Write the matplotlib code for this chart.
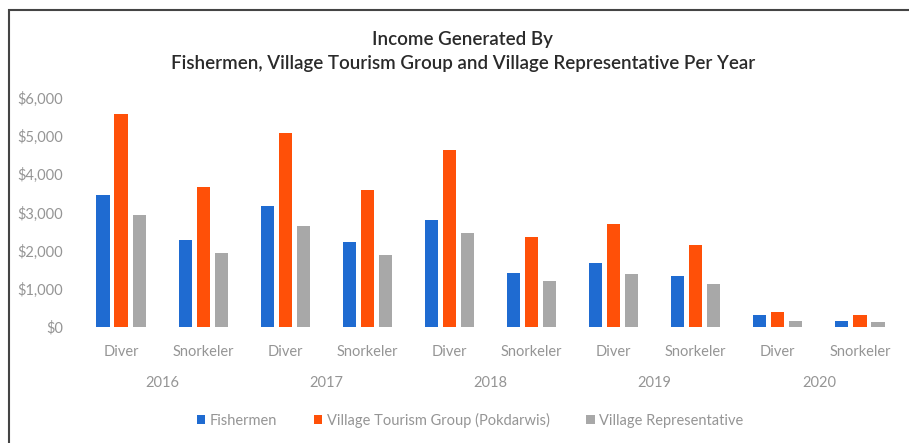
import matplotlib

matplotlib.use("Agg")
import matplotlib.pyplot as plt
import numpy as np
from matplotlib.patches import Patch, Rectangle
from matplotlib.ticker import StrMethodFormatter
from matplotlib.transforms import blended_transform_factory

years = ["2016", "2017", "2018", "2019", "2020"]
activities = ["Diver", "Snorkeler"]
series_names = ["Fishermen", "Village Tourism Group (Pokdarwis)", "Village Representative"]

# values per year: Diver, Snorkeler
fishermen = [3460, 2280, 3170, 2230, 2800, 1420, 1670, 1340, 310, 170]
tourism_group = [5580, 3670, 5070, 3600, 4650, 2350, 2710, 2150, 385, 310]
village_rep = [2930, 1930, 2640, 1880, 2450, 1200, 1390, 1130, 170, 120]

colors = ["#1F6BD1", "#FF5008", "#A8A8A8"]
tick_color = "#959595"
tick_size = 10.5

plt.rcParams["font.family"] = ["Lato", "DejaVu Sans"]

fig = plt.figure(figsize=(9.09, 4.43), dpi=100)
ax = fig.add_axes([80 / 909, 1 - 327 / 443, 821 / 909, 229 / 443])

labels = [a for _ in years for a in activities]
x = np.arange(len(labels))
offsets = [-0.22, 0.0, 0.22]
for values, off, color in zip([fishermen, tourism_group, village_rep], offsets, colors):
    ax.bar(x + off, values, width=0.16, color=color)

ax.set_xlim(-0.5, len(labels) - 0.5)
ax.set_ylim(0, 6000)
ax.set_yticks(range(0, 6001, 1000))
ax.yaxis.set_major_formatter(StrMethodFormatter("${x:,.0f}"))
ax.set_xticks(x)
ax.set_xticklabels(labels)
ax.tick_params(axis="x", length=0, pad=13, labelsize=tick_size, labelcolor=tick_color)
ax.tick_params(axis="y", length=0, pad=12, labelsize=tick_size, labelcolor=tick_color)
for side in ["top", "right", "left", "bottom"]:
    ax.spines[side].set_visible(False)

trans = blended_transform_factory(ax.transData, fig.transFigure)
for i, year in enumerate(years):
    ax.text(2 * i + 0.5, 1 - 383 / 443, year, transform=trans, ha="center", va="center",
            fontsize=tick_size, color=tick_color)

fig.text(0.509, 1 - 40 / 443, "Income Generated By", ha="center", va="center",
         fontsize=13.5, color="#2a2a2a", fontweight="semibold")
fig.text(0.509, 1 - 63 / 443,
         "Fishermen, Village Tourism Group and Village Representative Per Year",
         ha="center", va="center", fontsize=13.5, color="#2a2a2a", fontweight="semibold")

handles = [Patch(facecolor=c) for c in colors]
leg = fig.legend(handles, series_names, loc="center", ncol=3,
                 bbox_to_anchor=(470 / 909, 1 - 420 / 443), frameon=False,
                 fontsize=tick_size, handlelength=0.6, handleheight=0.6,
                 handletextpad=0.3, columnspacing=2.5)
for t in leg.get_texts():
    t.set_color(tick_color)

# outer frame of the pasted chart (right and bottom are cut off)
fig.patches.append(Rectangle((9 / 909, -0.1), 1.0, 1 - 10 / 443 + 0.1,
                             transform=fig.transFigure, fill=False,
                             edgecolor="#444444", linewidth=1.5))

fig.savefig("out.png", dpi=100)
